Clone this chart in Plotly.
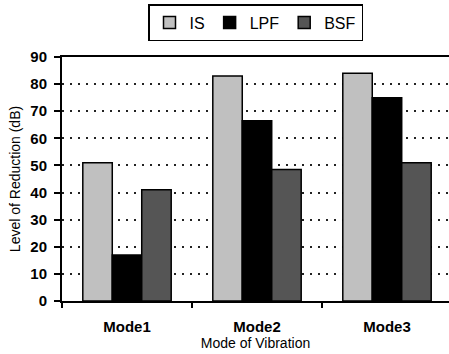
import plotly.graph_objects as go

categories = ["Mode1", "Mode2", "Mode3"]
is_vals = [51, 83, 84]
lpf_vals = [17, 66.5, 75]
bsf_vals = [41, 48.5, 51]
series_names = ["IS", "LPF", "BSF"]
colors = ["#c0c0c0", "#000000", "#555555"]

fig = go.Figure()
for name, vals, c in zip(series_names, [is_vals, lpf_vals, bsf_vals], colors):
    fig.add_trace(go.Bar(name=name, x=categories, y=vals,
                         marker=dict(color=c, line=dict(color="black", width=1.5))))

font = "Liberation Sans, Arial, sans-serif"
fig.update_layout(
    width=449, height=354,
    margin=dict(l=62, r=0, t=57, b=53),
    plot_bgcolor="white", paper_bgcolor="white",
    barmode="group", bargap=0.32, bargroupgap=0,
    font=dict(family=font, size=14, color="black"),
    legend=dict(orientation="h", x=0.5, xanchor="center", y=1.217, yanchor="top",
                bordercolor="black", borderwidth=1.5, font=dict(size=16),
                itemwidth=30, tracegroupgap=0),
    showlegend=True,
)
fig.update_xaxes(
    range=[-0.5, 2.477], showline=True, linecolor="black", linewidth=2, mirror=True,
    ticks="outside", tickson="boundaries", ticklen=5, tickcolor="black", tickwidth=1.5,
    tickfont=dict(size=15, weight="bold"), ticklabelstandoff=11,
    title=dict(text="Mode of Vibration", font=dict(size=14), standoff=4),
    showgrid=False,
)
fig.update_yaxes(
    range=[0, 90], tickvals=list(range(0, 91, 10)), showline=True, linecolor="black", linewidth=2,
    ticks="outside", ticklen=6, tickcolor="black", tickwidth=1.5,
    tickfont=dict(size=15, weight="bold"), ticklabelstandoff=4,
    showgrid=True, gridcolor="#222222", griddash="2px,6px", gridwidth=1.5,
    title=dict(text="Level of Reduction (dB)", font=dict(size=14), standoff=6),
    zeroline=False,
)
fig.write_html("out.html")
